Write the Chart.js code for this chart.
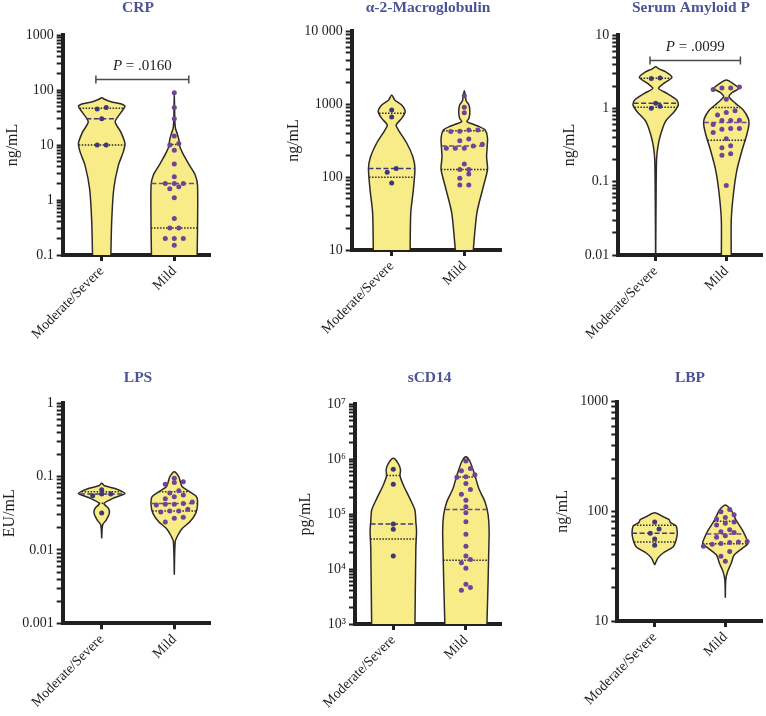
<!DOCTYPE html>
<html>
<head>
<meta charset="utf-8">
<script src="https://cdn.jsdelivr.net/npm/chart.js@4.4.1/dist/chart.umd.min.js"></script>
<style>
  body { margin: 0; background: #fff; width: 766px; height: 716px; position: relative; overflow: hidden; }
  canvas { position: absolute; }
</style>
</head>
<body>
<canvas id="c0" width="255" height="340" style="left:0;top:0"></canvas>
<canvas id="c1" width="255" height="340" style="left:255px;top:0"></canvas>
<canvas id="c2" width="256" height="340" style="left:510px;top:0"></canvas>
<canvas id="c3" width="255" height="376" style="left:0;top:340px"></canvas>
<canvas id="c4" width="255" height="376" style="left:255px;top:340px"></canvas>
<canvas id="c5" width="256" height="376" style="left:510px;top:340px"></canvas>
<script>
const groups = ['Moderate/Severe', 'Mild'];

// CRP, ng/mL
const crpSevere = [48, 45, 30, 10, 10];
const crpMild = [89, 48, 30, 14.5, 10.7, 10, 8, 4.5, 2.65, 2, 2, 2, 1.75, 1.6, 1.1, 0.46, 0.31, 0.31, 0.2, 0.2, 0.2, 0.15];
// violin outlines: [value, relative half width]
const crpSevereShape = [[0.08, 0.39], [0.41, 0.43], [1.6, 0.52], [4.3, 0.72], [7.5, 0.93], [10.7, 1], [17, 0.83], [26.5, 0.58], [40, 0.85], [50, 1], [55.6, 0.85], [61, 0.4], [67.6, 0.13], [72, 0]];
const crpMildShape = [[0.08, 0.98], [0.3, 1], [1.87, 1], [2.85, 0.9], [4.3, 0.65], [6.6, 0.4], [9.3, 0.24], [12.3, 0.2], [16.3, 0.12], [20, 0.05], [30, 0.02], [90, 0]];
const crpTicks = ['0.1', '1', '10', '100', '1000'];
const crpBracket = ['.0160', 160];

// alpha-2-macroglobulin, ng/mL
const a2mSevere = [830, 665, 131, 116, 83];
const a2mMild = [1300, 900, 760, 440, 440, 423, 420, 332, 314, 281, 266, 247, 247, 247, 151, 127, 127, 110, 96, 78, 78];
const a2mSevereShape = [[8, 0.79], [32, 0.82], [66, 0.93], [131, 1], [190, 0.91], [290, 0.65], [440, 0.29], [515, 0.19], [637, 0.43], [785, 0.58], [968, 0.43], [1135, 0.13], [1330, 0]];
const a2mMildShape = [[8, 0.36], [32, 0.54], [74, 0.82], [127, 1], [190, 0.96], [339, 1], [440, 0.9], [489, 0.65], [532, 0.35], [573, 0.11], [637, 0.2], [785, 0.24], [968, 0.2], [1110, 0.08], [1330, 0.04], [1520, 0]];
const a2mTicks = ['10', '100', '1000', '10 000'];

// serum amyloid P, ng/mL
const sapSevere = [2.6, 2.55, 1.17, 1.07, 1.0];
const sapMild = [1.95, 1.9, 1.9, 1.8, 1.33, 0.93, 0.88, 0.81, 0.69, 0.68, 0.68, 0.6, 0.53, 0.53, 0.52, 0.47, 0.385, 0.31, 0.29, 0.24, 0.23, 0.089];
const sapSevereShape = [[0.008, 0], [0.07, 0.02], [0.2, 0.04], [0.3, 0.1], [0.43, 0.21], [0.66, 0.43], [0.9, 0.82], [1.11, 1], [1.3, 0.93], [1.6, 0.5], [1.87, 0.13], [2.19, 0.36], [2.65, 0.72], [3.16, 0.43], [3.45, 0.15], [3.7, 0]];
const sapMildShape = [[0.008, 0.22], [0.03, 0.22], [0.07, 0.32], [0.144, 0.47], [0.27, 0.7], [0.43, 0.9], [0.6, 1], [0.73, 0.97], [0.95, 0.75], [1.17, 0.41], [1.44, 0.12], [1.63, 0.25], [1.87, 0.55], [2.15, 0.32], [2.43, 0]];
const sapTicks = ['0.01', '0.1', '1', '10'];
const sapBracket = ['.0099', 4.56];

// LPS, EU/mL
const lpsSevere = [0.066, 0.058, 0.058, 0.055, 0.032];
const lpsMild = [0.095, 0.085, 0.083, 0.079, 0.064, 0.06, 0.056, 0.053, 0.05, 0.045, 0.043, 0.042, 0.042, 0.041, 0.036, 0.034, 0.034, 0.033, 0.028, 0.027, 0.024];
const lpsSevereShape = [[0.0144, 0], [0.0219, 0.04], [0.0256, 0.19], [0.0316, 0.33], [0.037, 0.29], [0.043, 0.1], [0.052, 0.57], [0.059, 1], [0.069, 0.57], [0.075, 0.12], [0.081, 0]];
const lpsMildShape = [[0.0046, 0], [0.013, 0.04], [0.016, 0.16], [0.0197, 0.35], [0.0244, 0.68], [0.0316, 0.92], [0.041, 1], [0.053, 0.96], [0.064, 0.6], [0.073, 0.34], [0.085, 0.26], [0.1, 0.19], [0.117, 0]];
const lpsTicks = ['0.001', '0.01', '0.1', '1'];

// sCD14, pg/mL
const cd14Severe = [6.6e5, 3.5e5, 6.6e4, 5.3e4, 1.73e4];
const cd14Mild = [9.3e5, 6.8e5, 6.2e5, 5.2e5, 4.8e5, 4.7e5, 3.6e5, 2.8e5, 2.3e5, 1.8e5, 1.37e5, 1.06e5, 7.3e4, 4.3e4, 2.6e4, 1.73e4, 1.5e4, 1.3e4, 1.03e4, 5.3e3, 4.6e3, 4.1e3];
const cd14SevereShape = [[800, 0.93], [2.4e4, 0.97], [5e4, 1], [7.3e4, 0.97], [1.19e5, 0.93], [1.94e5, 0.71], [3.4e5, 0.43], [5e5, 0.29], [6.4e5, 0.31], [8.4e5, 0.21], [1.04e6, 0]];
const cd14MildShape = [[800, 0.9], [4.2e4, 1], [9.6e4, 0.96], [1.68e5, 0.82], [2.9e5, 0.56], [5.2e5, 0.38], [9e5, 0.18], [1.11e6, 0]];
const cd14Ticks = ['10³', '10⁴', '10⁵', '10⁶', '10⁷'];

// LBP, ng/mL
const lbpSevere = [80, 69, 63, 56, 49];
const lbpMild = [104, 99, 93, 88, 85, 80, 78, 75, 68, 65, 64, 60, 58, 53, 52.5, 52, 51, 50, 48, 43, 39, 35];
const lbpSevereShape = [[32.4, 0], [37.4, 0.14], [41.5, 0.36], [47.6, 0.82], [54.8, 0.95], [63, 1], [74, 0.94], [79, 0.7], [84, 0.64], [88.5, 0.42], [97, 0]];
const lbpMildShape = [[16.3, 0], [23.7, 0.02], [28.2, 0.1], [33.6, 0.26], [40, 0.39], [46, 0.75], [51, 1], [56.9, 0.93], [67.7, 0.75], [83.6, 0.47], [103, 0.26], [114, 0]];
const lbpTicks = ['10', '100', '1000'];

const panels = [
  { id: 'c0', title: 'CRP', unit: 'ng/mL', range: [0.1, 1000], ticks: crpTicks, severe: crpSevere, mild: crpMild,
    shapes: [crpSevereShape, crpMildShape], bracket: crpBracket,
    area: [62.7, 35, 210, 255], tick1: 101.7, yTitleX: 13, titleY: 7.5 },
  { id: 'c1', title: 'α-2-Macroglobulin', unit: 'ng/mL', range: [10, 10000], ticks: a2mTicks, severe: a2mSevere, mild: a2mMild,
    shapes: [a2mSevereShape, a2mMildShape],
    area: [96.7, 31, 246.7, 250], tick1: 136.7, yTitleX: 38.3, titleY: 7.5 },
  { id: 'c2', title: 'Serum Amyloid P', unit: 'ng/mL', range: [0.01, 10], ticks: sapTicks, severe: sapSevere, mild: sapMild,
    shapes: [sapSevereShape, sapMildShape], bracket: sapBracket,
    area: [108.3, 35, 256, 255], tick1: 146.7, yTitleX: 59.3, titleY: 7.5 },
  { id: 'c3', title: 'LPS', unit: 'EU/mL', range: [0.001, 1], ticks: lpsTicks, severe: lpsSevere, mild: lpsMild,
    shapes: [lpsSevereShape, lpsMildShape],
    area: [62.7, 63.3, 210, 283.3], tick1: 101.7, yTitleX: 9, titleY: 38 },
  { id: 'c4', title: 'sCD14', unit: 'pg/mL', range: [1e3, 1e7], ticks: cd14Ticks, severe: cd14Severe, mild: cd14Mild,
    shapes: [cd14SevereShape, cd14MildShape],
    area: [100, 64.3, 246.7, 284], tick1: 138.3, yTitleX: 50.7, titleY: 38 },
  { id: 'c5', title: 'LBP', unit: 'ng/mL', range: [10, 1000], ticks: lbpTicks, severe: lbpSevere, mild: lbpMild,
    shapes: [lbpSevereShape, lbpMildShape],
    area: [107.3, 61.7, 256, 281], tick1: 145.7, yTitleX: 52.7, titleY: 38 }
];

const FONT = '"Liberation Serif", "DejaVu Serif", serif';
const INK = '#231f20';
const FILL = '#f8ec88';
const DOT_COLORS = ['#3e3878', '#6e4596'];
const PX_PER_GROUP = 72.6;   // distance between the two categories
const MAX_HALF = 0.32;       // widest violin half width, in category units
const DOT_STEP = 9 / PX_PER_GROUP;

Chart.defaults.font.family = FONT;

function quantile(vals, p) {
  const s = [...vals].sort((a, b) => a - b);
  const pos = (s.length + 1) * p;
  const lo = Math.floor(pos);
  if (lo < 1) return s[0];
  if (lo >= s.length) return s[s.length - 1];
  return s[lo - 1] + (pos - lo) * (s[lo] - s[lo - 1]);
}

function widthAt(shape, v) {
  const lv = Math.log10(v);
  for (let i = 0; i < shape.length - 1; i++) {
    const a = Math.log10(shape[i][0]), b = Math.log10(shape[i + 1][0]);
    if (lv >= a && lv <= b) return shape[i][1] + (shape[i + 1][1] - shape[i][1]) * (lv - a) / (b - a);
  }
  return 0;
}

function outline(shape, c) {
  const right = shape.map(([v, w]) => ({ x: c + w * MAX_HALF, y: v }));
  let back = shape.slice().reverse();
  if (back[0][1] === 0) back = back.slice(1);
  const left = back.map(([v, w]) => ({ x: c - w * MAX_HALF, y: v }));
  return right.concat(left);
}

// simple beeswarm: values close in pixel height share a row
function swarm(values, c, pxPerDecade) {
  const sorted = [...values].sort((a, b) => a - b);
  const out = [];
  let row = [], rowStart = 0;
  const flush = () => {
    row.forEach((v, k) => out.push({ x: c + (k - (row.length - 1) / 2) * DOT_STEP, y: v }));
    row = [];
  };
  sorted.forEach(v => {
    const py = Math.log10(v) * pxPerDecade;
    if (row.length && py - rowStart > 5) flush();
    if (!row.length) rowStart = py;
    row.push(v);
  });
  flush();
  return out;
}

function logTicks(min, max) {
  const ticks = [];
  for (let e = Math.round(Math.log10(min)); e <= Math.round(Math.log10(max)); e++) {
    for (let m = 1; m <= 9; m++) {
      const v = Number((m * Math.pow(10, e)).toPrecision(12));
      if (v <= max * 1.0001) ticks.push({ value: v });
    }
  }
  return ticks;
}

const annotate = {
  id: 'annotate',
  afterDraw(chart, args, opts) {
    const { ctx, scales: { x, y } } = chart;
    ctx.save();
    ctx.fillStyle = '#4c5496';
    ctx.font = 'bold 15.5px ' + FONT;
    ctx.textAlign = 'center';
    ctx.textBaseline = 'middle';
    ctx.fillText(opts.title, x.getPixelForValue(1.5), opts.titleY);
    if (opts.bracket) {
      const by = Math.round(y.getPixelForValue(opts.bracket[1])) + 0.5;
      const x1 = x.getPixelForValue(0.92), x2 = x.getPixelForValue(2.2);
      ctx.strokeStyle = '#4a4a4a';
      ctx.lineWidth = 1.5;
      ctx.beginPath();
      ctx.moveTo(x1, by); ctx.lineTo(x2, by);
      ctx.moveTo(x1, by - 4); ctx.lineTo(x1, by + 4);
      ctx.moveTo(x2, by - 4); ctx.lineTo(x2, by + 4);
      ctx.stroke();
      const rest = ' = ' + opts.bracket[0];
      ctx.font = 'italic 15px ' + FONT;
      const wP = ctx.measureText('P').width;
      ctx.font = '15px ' + FONT;
      const wR = ctx.measureText(rest).width;
      let tx = (x1 + x2) / 2 - (wP + wR) / 2;
      ctx.fillStyle = '#222';
      ctx.textAlign = 'left';
      ctx.font = 'italic 15px ' + FONT;
      ctx.fillText('P', tx, by - 13);
      ctx.font = '15px ' + FONT;
      ctx.fillText(rest, tx + wP, by - 13);
    }
    ctx.restore();
  }
};

panels.forEach(p => {
  const canvas = document.getElementById(p.id);
  const [l, t, r, b] = p.area;
  const padL = Math.max(0, p.yTitleX - 9.6);
  const yWidth = l - padL;
  const xHeight = canvas.height - b;
  const xMin = 1 - (p.tick1 - l) / PX_PER_GROUP;
  const xMax = xMin + (r - l) / PX_PER_GROUP;
  const [yMin, yMax] = p.range;
  const pxPerDecade = (b - t) / (Math.log10(yMax) - Math.log10(yMin));

  const datasets = [];
  [p.severe, p.mild].forEach((vals, g) => {
    datasets.push({
      data: swarm(vals, g + 1, pxPerDecade),
      showLine: false, pointRadius: 2.5, pointBorderWidth: 0,
      pointBackgroundColor: DOT_COLORS[g], order: 0
    });
  });
  [p.severe, p.mild].forEach((vals, g) => {
    const c = g + 1;
    [[0.25, [1.5, 1.5], '#2a2a2a'], [0.5, [5, 2.5], DOT_COLORS[g]], [0.75, [1.5, 1.5], '#2a2a2a']].forEach(([q, dash, col]) => {
      const v = quantile(vals, q);
      const hw = widthAt(p.shapes[g], v) * MAX_HALF;
      datasets.push({
        data: [{ x: c - hw, y: v }, { x: c + hw, y: v }],
        borderColor: col, borderWidth: 1.5, borderDash: dash,
        pointRadius: 0, fill: false, order: 1
      });
    });
  });
  p.shapes.forEach((shape, g) => {
    datasets.push({
      data: outline(shape, g + 1),
      fill: 'shape', backgroundColor: FILL,
      borderColor: '#2e2a2a', borderWidth: 1.5,
      pointRadius: 0, tension: 0.25, order: 2
    });
  });

  new Chart(canvas, {
    type: 'line',
    data: { datasets },
    options: {
      responsive: false,
      animation: false,
      layout: { padding: { left: padL, top: t, right: canvas.width - r, bottom: 0 } },
      plugins: {
        legend: { display: false },
        tooltip: { enabled: false },
        annotate: { title: p.title, titleY: p.titleY, bracket: p.bracket }
      },
      scales: {
        x: {
          type: 'linear', min: xMin, max: xMax, z: 1,
          afterBuildTicks: s => { s.ticks = [{ value: 1 }, { value: 2 }]; },
          afterFit: s => { s.height = xHeight; },
          grid: { drawOnChartArea: false, drawTicks: true, tickLength: 6, tickWidth: 3, color: INK },
          border: { width: 4, color: INK },
          ticks: {
            autoSkip: false, minRotation: 45, maxRotation: 45, padding: 2,
            color: '#1e1e1e', font: { size: 14 },
            callback: v => (v === 1 ? groups[0] : v === 2 ? groups[1] : '')
          }
        },
        y: {
          type: 'logarithmic', min: yMin, max: yMax, z: 1,
          afterBuildTicks: s => { s.ticks = logTicks(yMin, yMax); },
          afterFit: s => { s.width = yWidth; },
          grid: { drawOnChartArea: false, drawTicks: true, tickLength: 6, tickWidth: 2, color: INK },
          border: { width: 4, color: INK },
          ticks: {
            autoSkip: false, padding: 3, color: '#1e1e1e', font: { size: 14 },
            callback: v => {
              const e = Math.log10(v);
              if (Math.abs(e - Math.round(e)) > 1e-6) return '';
              return p.ticks[Math.round(e) - Math.round(Math.log10(yMin))];
            }
          },
          title: { display: true, text: p.unit, color: '#1e1e1e', font: { size: 16 }, padding: 0 }
        }
      }
    },
    plugins: [annotate]
  });
});
</script>
</body>
</html>
